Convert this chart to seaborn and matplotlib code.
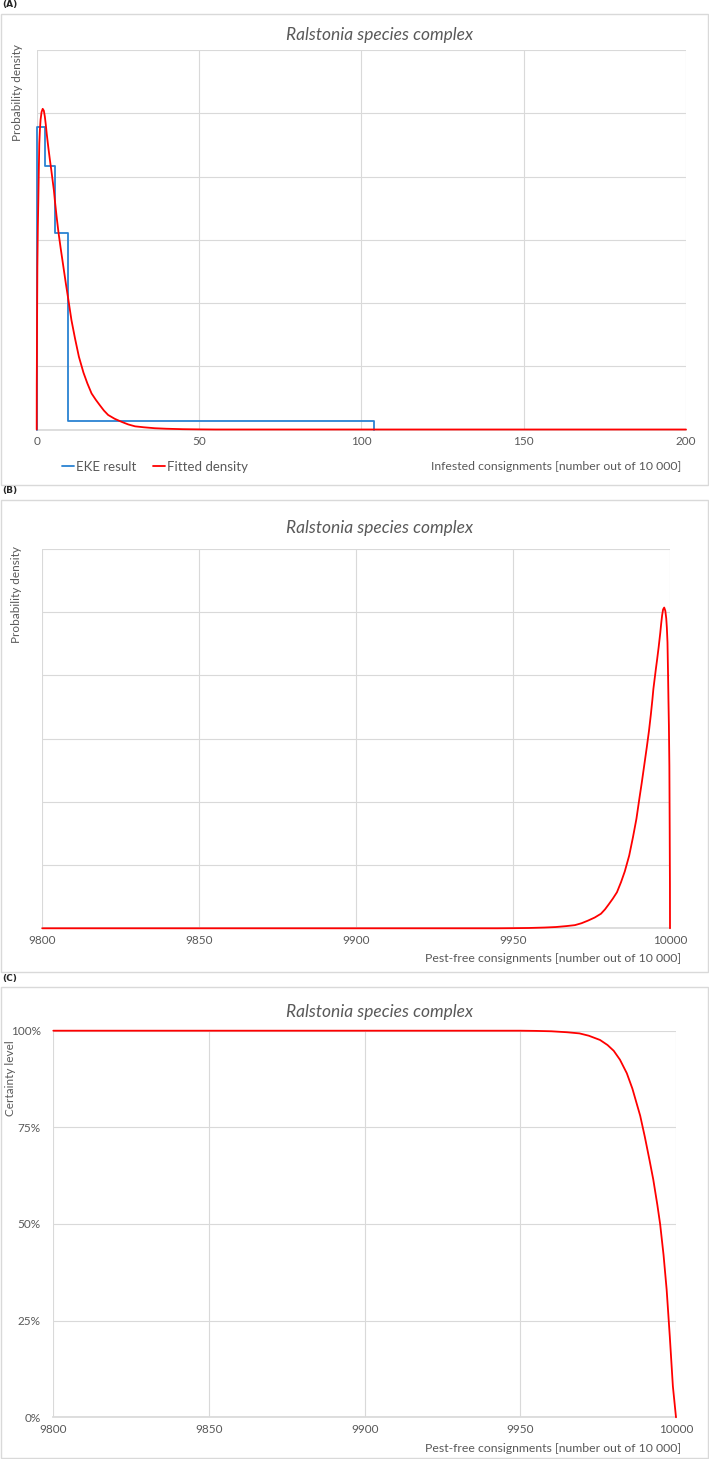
import matplotlib
matplotlib.use("Agg")
import matplotlib.pyplot as plt
from matplotlib.patches import Rectangle
from matplotlib.ticker import FuncFormatter
import pandas as pd
import seaborn as sns

# EKE result (piecewise uniform density between elicited quantiles)
eke_edges = [0, 2.5, 5.5, 9.5, 104]
eke_density = [0.0958, 0.0832, 0.0622, 0.0026]

# fitted density, infested consignments out of 10 000
fit_x = [0, 0.02, 0.05, 0.1, 0.2, 0.35, 0.5, 0.65, 0.8, 1.0, 1.2, 1.5, 1.85,
         2.2, 2.5, 2.8, 3.1, 3.6, 4.1, 4.5, 4.9, 5.3, 5.6, 6.1, 6.7, 7.4, 8.2,
         9.0, 9.7, 10.7, 11.8, 13.0, 14.4, 15.6, 16.9, 18.2, 19.5, 20.7, 22.0,
         24.0, 26.2, 28.2, 30.3, 33.0, 36.4, 40, 45, 50, 55, 200]
fit_density = [0, 0.014, 0.020, 0.032, 0.0514, 0.064, 0.0724, 0.082, 0.0904,
               0.095, 0.098, 0.1004, 0.1014, 0.1008, 0.099, 0.0964, 0.0934,
               0.089, 0.085, 0.082, 0.0788, 0.0756, 0.0724, 0.0676, 0.0624,
               0.0572, 0.0516, 0.046, 0.0414, 0.0346, 0.0288, 0.023, 0.018,
               0.0146, 0.0114, 0.0094, 0.0076, 0.006, 0.0046, 0.0034, 0.0024,
               0.0016, 0.001, 0.0007, 0.0004, 0.00024, 0.0001, 0.00004, 0, 0]

# certainty curve
cert_x = [9800, 9950, 9955, 9960, 9965, 9969, 9972, 9975.6, 9978, 9980, 9982,
          9984.2, 9986, 9988.5, 9990, 9991.5, 9992.7, 9994, 9994.9, 9996,
          9997, 9998, 9999, 9999.5, 10000]
cert_level = [100, 100, 99.95, 99.85, 99.6, 99.3, 98.7, 97.6, 96.3, 94.8,
              92.5, 89, 85, 78, 72.5, 66.5, 61.5, 55, 50, 42, 33, 21, 8, 4, 0]

title = "Ralstonia species complex"
ticks_a = [0, 50, 100, 150, 200]
ticks_pf = [9800, 9850, 9900, 9950, 10000]
ticks_cert = [0, 25, 50, 75, 100]
ticks_dens = [0, 0.02, 0.04, 0.06, 0.08, 0.10, 0.12]

sns.set_theme(style="white")
plt.rcParams["font.family"] = ["Lato", "DejaVu Sans"]

W, H = 709, 1459
GRAY = "#595959"
GRID = "#d9d9d9"
RED = "#ff0000"
BLUE = "#2a82d2"

fig = plt.figure(figsize=(W / 100, H / 100), dpi=100)


def place(left, top, right, bottom):
    return fig.add_axes([left / W, 1 - bottom / H, (right - left) / W, (bottom - top) / H])


def frame(top, bottom, label):
    fig.patches.append(Rectangle((1 / W, 1 - bottom / H), 707 / W, (bottom - top) / H,
                                 transform=fig.transFigure, fill=False,
                                 edgecolor=GRID, lw=1))
    fig.text(2 / W, 1 - (top - 9) / H, label, fontsize=6.5, fontweight="bold",
             va="center", ha="left", family="DejaVu Sans")


def style(ax, xticks, xlim, ylim, yticks):
    ax.set_xlim(xlim)
    ax.set_ylim(ylim)
    ax.set_xticks(xticks)
    ax.set_yticks(yticks)
    ax.grid(True, color=GRID, lw=0.8)
    ax.set_axisbelow(True)
    for s in ["top", "right", "left"]:
        ax.spines[s].set_visible(False)
    ax.spines["bottom"].set_color(GRID)
    ax.spines["bottom"].set_zorder(1)
    ax.tick_params(length=0, labelsize=8.5, labelcolor=GRAY, pad=5)
    ax.set_xlabel("")
    ax.set_ylabel("")
    for line in ax.get_lines():
        line.set_clip_on(False)
        line.set_zorder(3)


def texts(title_y, ylab_top, xlab, xlab_y, ylab, ylab_x=17):
    fig.text(380 / W, 1 - title_y / H, title, fontsize=12.5, style="italic",
             color=GRAY, ha="center", va="center")
    fig.text(ylab_x / W, 1 - ylab_top / H, ylab, rotation=90, fontsize=8.5,
             color=GRAY, ha="center", va="top")
    fig.text(681 / W, 1 - xlab_y / H, xlab, fontsize=8.8, color=GRAY,
             ha="right", va="center")


# ---------- (A) ----------
frame(14, 485, "(A)")
ax_a = place(36.7, 50, 686, 429.5)
step_df = pd.DataFrame({
    "x": [eke_edges[0]] + eke_edges,
    "y": [0] + eke_density + [0],
})
sns.lineplot(data=step_df, x="x", y="y", ax=ax_a, color=BLUE, lw=1.3,
             drawstyle="steps-post", estimator=None, sort=False,
             label="EKE result")
fit_df = pd.DataFrame({"x": fit_x, "y": fit_density})
sns.lineplot(data=fit_df, x="x", y="y", ax=ax_a, color=RED, lw=1.3,
             estimator=None, sort=False, label="Fitted density")
style(ax_a, ticks_a, (0, 200), (0, 0.12), ticks_dens)
ax_a.set_yticklabels([])
ax_a.legend(loc="center left", bbox_to_anchor=(50 / W, 1 - 467 / H),
            bbox_transform=fig.transFigure, ncol=2, frameon=False,
            fontsize=9.5, handlelength=0.9, handletextpad=0.15,
            columnspacing=1.3, labelcolor=GRAY)
texts(35, 44, "Infested consignments [number out of 10 000]", 467,
      "Probability density", 18)

# ---------- (B) ----------
frame(500, 972, "(B)")
ax_b = place(42.3, 548.7, 670, 928.3)
pf_df = pd.DataFrame({"x": [10000 - v for v in fit_x], "y": fit_density})
sns.lineplot(data=pf_df, x="x", y="y", ax=ax_b, color=RED, lw=1.3,
             estimator=None, sort=False)
style(ax_b, ticks_pf, (9800, 10000), (0, 0.12), ticks_dens)
ax_b.set_yticklabels([])
ax_b.xaxis.set_major_formatter(FuncFormatter(lambda v, p: f"{v:.0f}"))
texts(528, 546, "Pest-free consignments [number out of 10 000]", 959,
      "Probability density", 17)

# ---------- (C) ----------
frame(987, 1458, "(C)")
ax_c = place(53.3, 1030.7, 676, 1417.3)
cert_df = pd.DataFrame({"x": cert_x, "y": cert_level})
sns.lineplot(data=cert_df, x="x", y="y", ax=ax_c, color=RED, lw=1.3,
             estimator=None, sort=False)
style(ax_c, ticks_pf, (9800, 10000), (0, 100), ticks_cert)
ax_c.set_yticklabels([f"{t}%" for t in ticks_cert])
ax_c.tick_params(axis="y", pad=9)
ax_c.xaxis.set_major_formatter(FuncFormatter(lambda v, p: f"{v:.0f}"))
texts(1012, 1040, "Pest-free consignments [number out of 10 000]", 1448,
      "Certainty level", 11)

fig.savefig("out.png", dpi=100)
